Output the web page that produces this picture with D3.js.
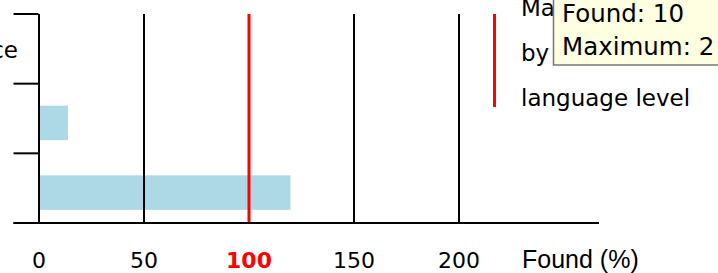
<!DOCTYPE html>
<html>
<head>
<meta charset="utf-8">
<script src="https://cdn.jsdelivr.net/npm/d3@7"></script>
<style>
body { margin: 0; background: #fff; }
svg { display: block; font-family: "DejaVu Sans", Verdana, sans-serif; }
</style>
</head>
<body>
<div id="chart"></div>
<script>
var categories = ["Word occurrence", "Words", "Sentences"];
var foundValues = [0, 14, 120];
var tickValues = [0, 50, 100, 150, 200];
var maxAllowed = 100;
var axisTitle = "Found (%)";
var legendLines = ["Maximum", "by", "language level"];
var tooltipLines = ["Found: 10", "Maximum: 2"];

var width = 718;
var height = 273;
var top_y = 14;
var base_y = 223;

var svg = d3.select("#chart")
    .append("svg")
    .attr("width", width)
    .attr("height", height);

var x = d3.scaleLinear().domain([0, 200]).range([38.5, 458.5]);
var y = d3.scaleBand().domain(categories).range([top_y, base_y]);

// bars
svg.append("g").selectAll("rect")
    .data(categories)
    .enter().append("rect")
    .attr("x", x(0))
    .attr("y", function(d) { return y(d) + y.bandwidth() * 0.316; })
    .attr("height", y.bandwidth() * 0.495)
    .attr("width", function(d, i) { return x(foundValues[i]) - x(0); })
    .attr("fill", "#add8e6");

// x axis with gridlines
var xAxis = svg.append("g")
    .attr("transform", `translate(0, ${base_y})`)
    .call(d3.axisBottom(x)
        .tickValues(tickValues)
        .tickSize(-(base_y - top_y))
        .tickSizeOuter(0));

xAxis.select(".domain").remove();
xAxis.selectAll(".tick line")
    .attr("stroke", function(d) { return d === maxAllowed ? "#ff0000" : "#000"; })
    .attr("stroke-width", function(d) { return d === maxAllowed ? 3 : 2; });
xAxis.selectAll(".tick text")
    .attr("y", 45)
    .attr("dy", 0)
    .attr("font-size", 22)
    .attr("font-family", "DejaVu Sans, Verdana, sans-serif")
    .attr("font-weight", function(d) { return d === maxAllowed ? "bold" : "normal"; })
    .attr("fill", function(d) { return d === maxAllowed ? "#ff0000" : "#000"; });

// baseline
svg.append("line")
    .attr("x1", x(0) - 25).attr("x2", 599)
    .attr("y1", base_y).attr("y2", base_y)
    .attr("stroke", "#000").attr("stroke-width", 2);

xAxis.append("text")
    .attr("x", 522)
    .attr("y", 45)
    .attr("text-anchor", "start")
    .attr("font-size", 25)
    .attr("fill", "#000")
    .text(axisTitle);

// y axis ticks on band edges
var edges = categories.map(function(c) { return y(c); }).concat([base_y]);
svg.append("g").selectAll("line")
    .data(edges)
    .enter().append("line")
    .attr("x1", x(0) - 25).attr("x2", x(0))
    .attr("y1", function(d) { return d; })
    .attr("y2", function(d) { return d; })
    .attr("stroke", "#000").attr("stroke-width", 2);

// category labels, left aligned, mostly off-screen
var yLabels = svg.append("g")
    .attr("font-size", 23)
    .attr("fill", "#000");
var labelNodes = yLabels.selectAll("text")
    .data(categories)
    .enter().append("text")
    .attr("y", function(d) { return y(d) + y.bandwidth() / 2 + 9; })
    .text(function(d) { return d; });
var longest = d3.max(labelNodes.nodes(), function(n) { return n.getComputedTextLength(); });
labelNodes.attr("x", 18 - longest);

// legend
svg.append("line")
    .attr("x1", 494.5).attr("x2", 494.5)
    .attr("y1", 14).attr("y2", 107)
    .attr("stroke", "#ff0000").attr("stroke-width", 3);

svg.append("g").selectAll("text")
    .data(legendLines)
    .enter().append("text")
    .attr("x", 521)
    .attr("y", function(d, i) { return 16 + i * 45; })
    .attr("font-size", 23)
    .attr("fill", "#000")
    .text(function(d) { return d; });

// tooltip
var tip = svg.append("g");
tip.append("rect")
    .attr("x", 553.5).attr("y", -5)
    .attr("width", 200).attr("height", 70)
    .attr("fill", "#ffffe1")
    .attr("stroke", "#767676").attr("stroke-width", 1.5);
tip.selectAll("text")
    .data(tooltipLines)
    .enter().append("text")
    .attr("x", 562)
    .attr("y", function(d, i) { return 22 + i * 33; })
    .attr("font-size", 24.5)
    .attr("fill", "#000")
    .text(function(d) { return d; });
</script>
</body>
</html>
